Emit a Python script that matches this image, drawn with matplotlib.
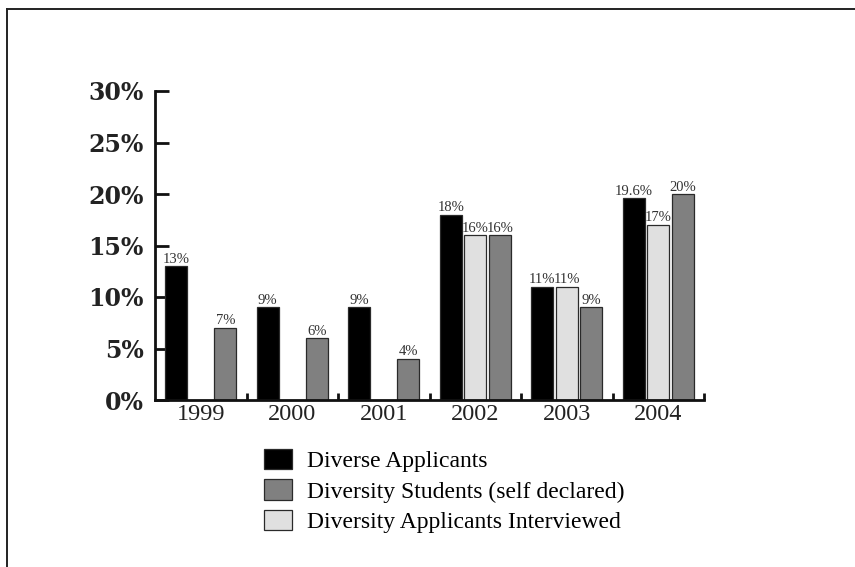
import numpy as np
import matplotlib
matplotlib.use("Agg")
import matplotlib.pyplot as plt
from matplotlib.lines import Line2D
from matplotlib.patches import Patch

years = ["1999", "2000", "2001", "2002", "2003", "2004"]
diverse_applicants = [13, 9, 9, 18, 11, 19.6]
applicants_interviewed = [None, None, None, 16, 11, 17]
students_self_declared = [7, 6, 4, 16, 9, 20]
value_labels_diverse = ["13%", "9%", "9%", "18%", "11%", "19.6%"]
value_labels_interviewed = [None, None, None, "16%", "11%", "17%"]
value_labels_students = ["7%", "6%", "4%", "16%", "9%", "20%"]
legend_labels = ["Diverse Applicants", "Diversity Students (self declared)",
                 "Diversity Applicants Interviewed"]
y_ticks = [0, 5, 10, 15, 20, 25, 30]

c_black = "#000000"
c_gray = "#808080"
c_light = "#e0e0e0"
edge = "#2a2a2a"

fig = plt.figure(figsize=(8.55, 5.67), dpi=100)
ax = fig.add_axes([155 / 855, 1 - 400 / 567, 549 / 855, 309 / 567])

x = np.arange(len(years))
width = 0.245
step = 0.268

series = [
    (diverse_applicants, value_labels_diverse, c_black, -step),
    (applicants_interviewed, value_labels_interviewed, c_light, 0.0),
    (students_self_declared, value_labels_students, c_gray, step),
]
for values, labels, color, off in series:
    for xi, v, lab in zip(x, values, labels):
        if v is None:
            continue
        ax.bar(xi + off, v, width=width, color=color, edgecolor=edge,
               linewidth=0.9, zorder=2)
        ax.annotate(lab, (xi + off, v), xytext=(0, 0.3),
                    textcoords="offset points", ha="center", va="bottom",
                    fontsize=10.5, family="Liberation Serif", color="#333333")

ax.set_xlim(-0.5, 5.5)
ax.set_ylim(0, 30)

for side in ("top", "right"):
    ax.spines[side].set_visible(False)
for side in ("left", "bottom"):
    ax.spines[side].set_linewidth(2.0)
    ax.spines[side].set_color("#111111")

ax.set_yticks(y_ticks)
ax.set_yticklabels([f"{t}%" for t in y_ticks], family="DejaVu Serif",
                   fontsize=17, fontweight="bold", color="#222222")
ax.tick_params(axis="y", direction="in", length=10, width=2.0, pad=8,
               color="#111111")

ax.set_xticks(x)
ax.set_xticklabels(years, family="Liberation Serif", fontsize=17.5,
                   color="#222222")
ax.tick_params(axis="x", which="major", length=0, pad=3)
ax.set_xticks(np.arange(0.5, 6.0, 1.0), minor=True)
ax.tick_params(axis="x", which="minor", direction="in", length=5, width=2.0,
               color="#111111")

handles = [Patch(facecolor=c, edgecolor=edge, linewidth=0.9)
           for c in (c_black, c_gray, c_light)]
fig.legend(handles, legend_labels, loc="upper left",
           bbox_to_anchor=(264 / 855, 1 - 449 / 567), frameon=False,
           prop={"family": "Liberation Serif", "size": 17},
           handlelength=1.2, handleheight=0.95, handletextpad=0.6,
           labelspacing=0.3, borderpad=0, borderaxespad=0)

# page frame: top and left rules
fig.add_artist(Line2D([7 / 855, 1.0], [1 - 9 / 567, 1 - 9 / 567],
                      transform=fig.transFigure, color="#222222", lw=1.4))
fig.add_artist(Line2D([7 / 855, 7 / 855], [0.0, 1 - 9 / 567],
                      transform=fig.transFigure, color="#222222", lw=1.4))

fig.savefig("out.png", dpi=100, facecolor="white")
